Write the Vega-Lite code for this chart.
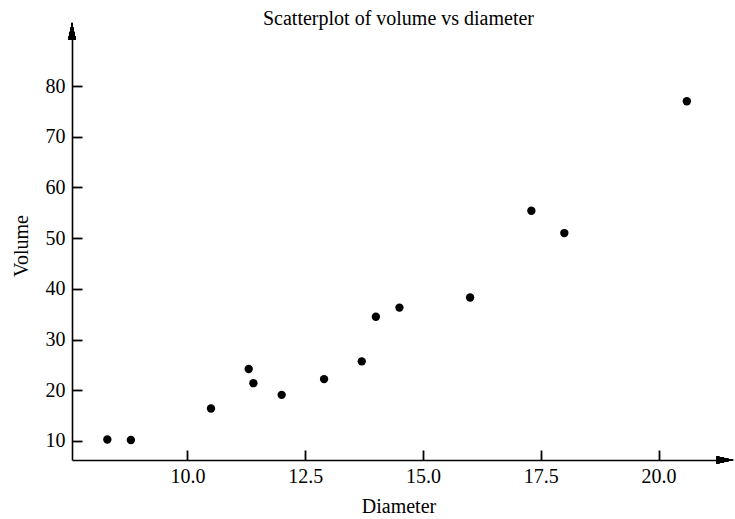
{
  "$schema": "https://vega.github.io/schema/vega-lite/v6.json",
  "autosize": {"type": "none"},
  "width": 653,
  "height": 429,
  "padding": {"left": 72, "top": 31, "right": 10, "bottom": 59},
  "background": "white",
  "title": {
    "text": "Scatterplot of  volume vs diameter",
    "font": "Liberation Serif",
    "fontSize": 20,
    "fontWeight": "normal",
    "color": "black",
    "anchor": "middle",
    "offset": -6
  },
  "config": {
    "view": {"stroke": null},
    "axis": {
      "grid": false,
      "domainColor": "black",
      "domainWidth": 1.6,
      "ticks": true,
      "tickColor": "black",
      "tickWidth": 1.8,
      "tickSize": -10,
      "labelFont": "Liberation Serif",
      "labelFontSize": 20,
      "labelColor": "black",
      "titleFont": "Liberation Serif",
      "titleFontSize": 20,
      "titleFontWeight": "normal",
      "titleColor": "black"
    }
  },
  "data": {
    "values": [
      {"Diameter": 8.3, "Volume": 10.3},
      {"Diameter": 8.8, "Volume": 10.2},
      {"Diameter": 10.5, "Volume": 16.4},
      {"Diameter": 11.3, "Volume": 24.2},
      {"Diameter": 11.4, "Volume": 21.4},
      {"Diameter": 12.0, "Volume": 19.1},
      {"Diameter": 12.9, "Volume": 22.2},
      {"Diameter": 13.7, "Volume": 25.7},
      {"Diameter": 14.0, "Volume": 34.5},
      {"Diameter": 14.5, "Volume": 36.3},
      {"Diameter": 16.0, "Volume": 38.3},
      {"Diameter": 17.3, "Volume": 55.4},
      {"Diameter": 18.0, "Volume": 51.0},
      {"Diameter": 20.6, "Volume": 77.0}
    ]
  },
  "layer": [
    {
      "mark": {"type": "point", "filled": true, "color": "black", "opacity": 1, "size": 70},
      "encoding": {
        "x": {
          "field": "Diameter",
          "type": "quantitative",
          "title": "Diameter",
          "scale": {"domain": [7.55, 21.41], "nice": false, "zero": false},
          "axis": {"values": [10, 12.5, 15, 17.5, 20], "format": ".1f", "labelPadding": 16, "titlePadding": 10, "labelFlush": false, "tickSize": -10}
        },
        "y": {
          "field": "Volume",
          "type": "quantitative",
          "title": "Volume",
          "scale": {"domain": [6.25, 90.85], "nice": false, "zero": false},
          "axis": {"values": [10, 20, 30, 40, 50, 60, 70, 80], "labelPadding": 17, "titlePadding": 14, "tickSize": -10}
        }
      }
    },
    {
      "mark": {"type": "point", "filled": true, "color": "black", "opacity": 1, "size": 289, "shape": "M-1,-0.45L1,0L-1,0.45Z"},
      "encoding": {
        "x": {"datum": 21.41, "type": "quantitative"},
        "y": {"datum": 6.25, "type": "quantitative"}
      }
    },
    {
      "mark": {"type": "point", "filled": true, "color": "black", "opacity": 1, "size": 289, "shape": "M-0.45,1L0,-1L0.45,1Z"},
      "encoding": {
        "x": {"datum": 7.55, "type": "quantitative"},
        "y": {"datum": 90.85, "type": "quantitative"}
      }
    }
  ]
}
